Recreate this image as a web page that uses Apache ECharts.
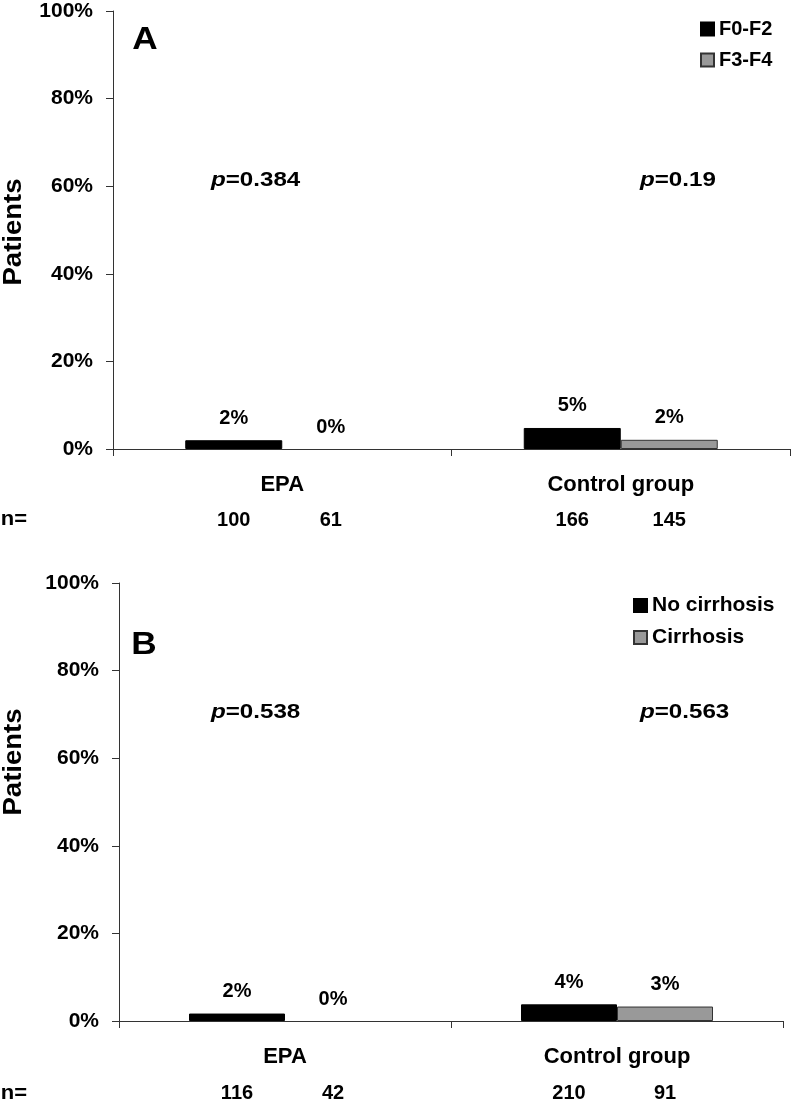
<!DOCTYPE html>
<html>
<head>
<meta charset="utf-8">
<script src="https://cdn.jsdelivr.net/npm/echarts@6/dist/echarts.min.js"></script>
<style>
html,body{margin:0;padding:0;background:#fff;}
#chart{width:792px;height:1102px;}
</style>
</head>
<body>
<div id="chart"></div>
<script>
// ---- data ----
const categories = ['EPA', 'Control group'];
const yTicks = [0, 20, 40, 60, 80, 100];
// Panel A
const namesA = ['F0-F2', 'F3-F4'];
const valuesA_F0F2 = [2.0, 4.8];
const valuesA_F3F4 = [0, 2.1];
const nA_F0F2 = [100, 166];
const nA_F3F4 = [61, 145];
const pA = ['0.384', '0.19'];
// Panel B
const namesB = ['No cirrhosis', 'Cirrhosis'];
const valuesB_no = [1.7, 3.8];
const valuesB_cirr = [0, 3.3];
const nB_no = [116, 210];
const nB_cirr = [42, 91];
const pB = ['0.538', '0.563'];

const FONT = '"Liberation Sans", Arial, sans-serif';
const txt = {fontFamily: FONT, fontWeight: 'bold', fontSize: 20, color: '#000'};
const AX = '#333';

function yAxisMain(gi) {
  return {
    type: 'value', gridIndex: gi, min: yTicks[0], max: yTicks[yTicks.length - 1], interval: yTicks[1] - yTicks[0],
    axisLine: {show: true, lineStyle: {color: AX, width: 1}},
    axisTick: {show: true, length: 7, lineStyle: {color: AX}},
    splitLine: {show: false},
    axisLabel: Object.assign({}, txt, {formatter: '{value}%', margin: 20, fontSize: 21})
  };
}
function xAxisMain(gi) {
  return {
    type: 'category', gridIndex: gi, data: categories,
    axisLine: {lineStyle: {color: AX, width: 1}},
    axisTick: {show: true, length: 7, alignWithLabel: false, lineStyle: {color: AX}},
    axisLabel: Object.assign({}, txt, {margin: 25, fontSize: 22})
  };
}
function hiddenX(gi) { return {type: 'category', gridIndex: gi, data: categories, show: false}; }
function hiddenY(gi) { return {type: 'value', gridIndex: gi, min: 0, max: 1, show: false}; }

const pctLabel = Object.assign({show: true, position: 'top', distance: 12,
  formatter: p => Math.round(p.value) + '%'}, txt);

function barSeries(name, data, xi, yi, color, bw) {
  const border = color === '#000' ? '#000' : '#333';
  return {
    name, type: 'bar', xAxisIndex: xi, yAxisIndex: yi,
    data: data.map(v => ({value: v, itemStyle: {borderWidth: v === 0 ? 0 : 1}})),
    barWidth: bw, barGap: '0%',
    itemStyle: {color, borderColor: border, borderWidth: 1},
    label: pctLabel
  };
}
function nSeries(name, nvals, xi, yi, bw) {
  return {
    name, type: 'bar', xAxisIndex: xi, yAxisIndex: yi, data: nvals.map(() => 0),
    barWidth: bw, barGap: '0%', silent: true,
    itemStyle: {color: 'rgba(0,0,0,0)'},
    label: Object.assign({show: true, position: 'inside', formatter: p => String(nvals[p.dataIndex])}, txt)
  };
}

const legendBase = {
  orient: 'vertical', icon: 'rect', itemWidth: 13, itemHeight: 13, itemGap: 11,
  textStyle: Object.assign({lineHeight: 20}, txt), selectedMode: false
};

function pText(x, y, val) {
  return {
    type: 'text', x: x, y: y, scaleX: 1.15,
    style: {
      rich: {
        i: {fontFamily: FONT, fontWeight: 'bold', fontStyle: 'italic', fontSize: 21, fill: '#000'},
        n: {fontFamily: FONT, fontWeight: 'bold', fontSize: 21, fill: '#000'}
      },
      text: '{i|p}{n|=' + val + '}',
      verticalAlign: 'middle'
    }
  };
}
function plainText(x, y, s, size, rot, sx) {
  return {
    type: 'text', x: x, y: y, rotation: rot || 0, scaleX: sx || 1,
    style: {text: s, fontFamily: FONT, fontWeight: 'bold', fontSize: size, fill: '#000',
      align: 'center', verticalAlign: 'middle'}
  };
}

const option = {
  animation: false,
  backgroundColor: '#fff',
  grid: [
    {left: 113, top: 11, width: 677, height: 438},
    {left: 113, top: 500, width: 677, height: 20},
    {left: 119, top: 583, width: 664, height: 438},
    {left: 119, top: 1073, width: 664, height: 20}
  ],
  xAxis: [xAxisMain(0), hiddenX(1), xAxisMain(2), hiddenX(3)],
  yAxis: [yAxisMain(0), hiddenY(1), yAxisMain(2), hiddenY(3)],
  legend: [
    Object.assign({data: namesA, left: 695, top: 14}, legendBase),
    Object.assign({data: namesB, left: 628, top: 590, textStyle: Object.assign({lineHeight: 20}, txt, {fontSize: 21})}, legendBase, {textStyle: Object.assign({lineHeight: 20}, txt, {fontSize: 21})})
  ],
  series: [
    barSeries(namesA[0], valuesA_F0F2, 0, 0, '#000', 97),
    barSeries(namesA[1], valuesA_F3F4, 0, 0, '#999', 97),
    nSeries('nA1', nA_F0F2, 1, 1, 97),
    nSeries('nA2', nA_F3F4, 1, 1, 97),
    barSeries(namesB[0], valuesB_no, 2, 2, '#000', 96),
    barSeries(namesB[1], valuesB_cirr, 2, 2, '#999', 96),
    nSeries('nB1', nB_no, 3, 3, 96),
    nSeries('nB2', nB_cirr, 3, 3, 96)
  ],
  graphic: [
    plainText(145, 40, 'A', 32, 0, 1.1),
    plainText(144, 645, 'B', 32, 0, 1.1),
    plainText(14, 232, 'Patients', 25, Math.PI / 2, 1.1),
    plainText(14, 762, 'Patients', 25, Math.PI / 2, 1.1),
    plainText(14, 519, 'n=', 20, 0, 1.1),
    plainText(14, 1093, 'n=', 20, 0, 1.1),
    pText(211, 180, pA[0]),
    pText(640, 180, pA[1]),
    pText(211, 712, pB[0]),
    pText(640, 712, pB[1])
  ]
};

const chart = echarts.init(document.getElementById('chart'), null, {renderer: 'canvas'});
chart.setOption(option);
</script>
</body>
</html>
